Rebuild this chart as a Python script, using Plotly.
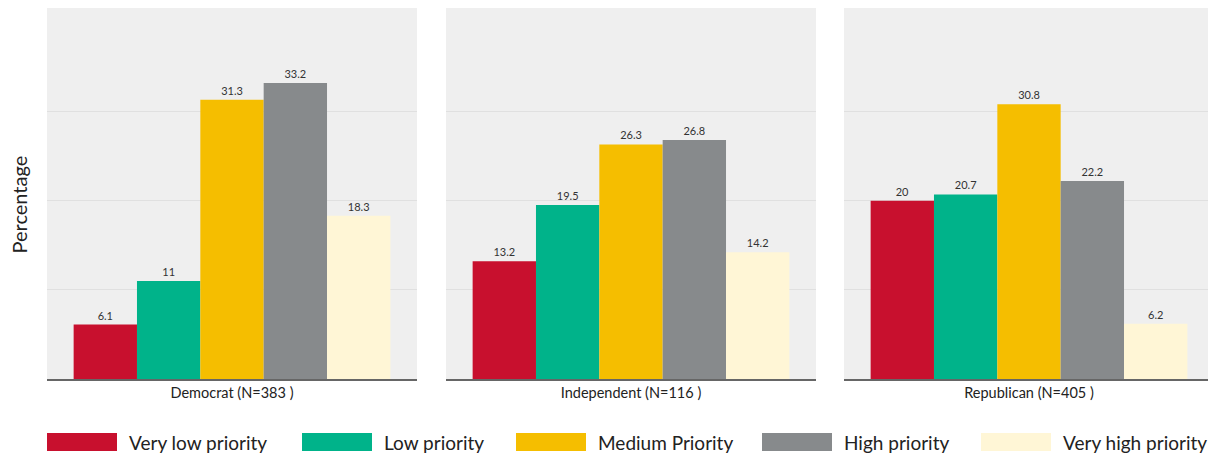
import plotly.graph_objects as go

PARTIES = ["Democrat (N=383 )", "Independent (N=116 )", "Republican (N=405 )"]
PRIORITIES = ["Very low priority", "Low priority", "Medium Priority", "High priority", "Very high priority"]
COLORS = ["#c8102e", "#00b38a", "#f5be00", "#878a8c", "#fff6d6"]

democrat = [6.1, 11, 31.3, 33.2, 18.3]
independent = [13.2, 19.5, 26.3, 26.8, 14.2]
republican = [20, 20.7, 30.8, 22.2, 6.2]
VALUES = [democrat, independent, republican]

FONT = "Lato"
W, H = 1208, 454
ML, MR, MT, MB = 47, 0, 8, 75
PW = W - ML - MR
PH = H - MT - MB

# panel pixel spans (relative to the plot area's left edge); the last panel
# runs off the right edge of the picture, so its axis range is cut short
FULL = 370
spans = [(0, 370), (399, 769), (797, 1161)]

fig = go.Figure()
for p, (party, vals) in enumerate(zip(PARTIES, VALUES)):
    ax = "" if p == 0 else str(p + 1)
    for i, name in enumerate(PRIORITIES):
        fig.add_trace(go.Bar(
            x=[party], y=[vals[i]], name=name,
            marker=dict(color=COLORS[i], line=dict(width=0)),
            text=[f"{vals[i]:g}"], textposition="outside",
            textfont=dict(family=FONT, size=11, color="#333333"),
            cliponaxis=False, showlegend=False,
            xaxis="x" + ax, yaxis="y" + ax,
        ))

layout = dict(
    width=W, height=H,
    margin=dict(l=ML, r=MR, t=MT, b=MB),
    paper_bgcolor="white", plot_bgcolor="#efefef",
    barmode="group", bargap=0.144, bargroupgap=0,
    font=dict(family=FONT, color="#222222"),
    showlegend=False,
)
for p, (a, b) in enumerate(spans):
    ax = "" if p == 0 else str(p + 1)
    layout["xaxis" + ax] = dict(
        domain=[a / PW, b / PW], anchor="y" + ax,
        range=[-0.5, -0.5 + (b - a) / FULL],
        showline=True, linecolor="#666666", linewidth=1.5,
        ticks="", tickfont=dict(family=FONT, size=14.5, color="#222222"),
        showgrid=False, fixedrange=True,
    )
    layout["yaxis" + ax] = dict(
        domain=[0, 1], anchor="x" + ax, range=[0, 41.6],
        showticklabels=False, ticks="", tickvals=[10, 20, 30],
        gridcolor="#e0e0e0", gridwidth=1.2, zeroline=False, fixedrange=True,
    )
fig.update_layout(**layout)


# page pixels -> paper coords
def py(y):
    return (379 - y) / PH


def px(x):
    return (x - 47) / PW


fig.add_annotation(
    text="Percentage", textangle=-90, xref="paper", yref="paper",
    x=px(18.5), y=py(205), xanchor="center", yanchor="middle",
    showarrow=False, font=dict(family=FONT, size=20, color="#222222"),
)

# legend with wide swatches
sw_x = [47, 302, 516, 762, 981]
for i, name in enumerate(PRIORITIES):
    fig.add_shape(type="rect", xref="paper", yref="paper",
                  x0=px(sw_x[i]), x1=px(sw_x[i] + 70), y0=py(451), y1=py(433),
                  fillcolor=COLORS[i], line=dict(width=0))
    fig.add_annotation(text=name, xref="paper", yref="paper",
                       x=px(sw_x[i] + 80), y=py(443),
                       xanchor="left", yanchor="middle", showarrow=False,
                       font=dict(family=FONT, size=19, color="#222222"))

# drop the default page margin so the figure sits at the window's corner
fig.write_html("out.html", config={"displayModeBar": False},
               post_script="document.body.style.margin='0';document.body.style.overflow='hidden';")
